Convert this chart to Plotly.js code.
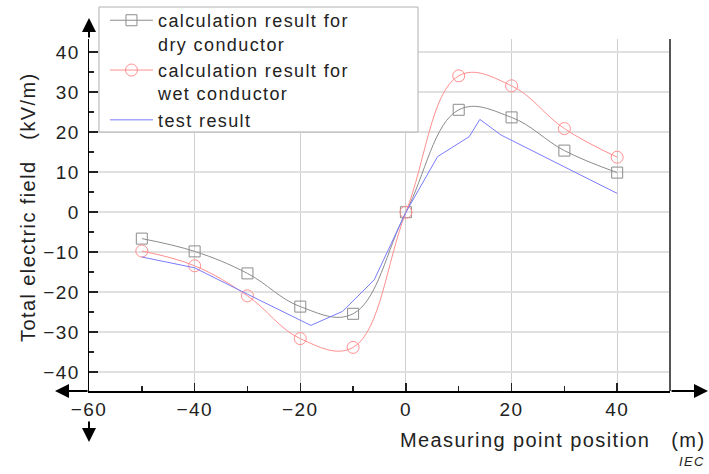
<!DOCTYPE html>
<html>
<head>
<meta charset="utf-8">
<script src="https://cdn.plot.ly/plotly-3.0.1.min.js"></script>
<style>
html,body{margin:0;padding:0;background:#fff;}
#chart{width:709px;height:474px;}
svg text{letter-spacing:1.4px;}
</style>
</head>
<body>
<div id="chart"></div>
<script>
// Data
const xCalc = [-50, -40, -30, -20, -10, 0, 10, 20, 30, 40];
const dryValues = [-6.6, -9.8, -15.3, -23.6, -25.4, 0, 25.6, 23.7, 15.4, 9.9];
const wetValues = [-9.7, -13.4, -20.9, -31.6, -33.8, 0, 34.1, 31.6, 20.9, 13.75];
const xTest = [-50, -40, -30, -18, -12, -6, 0, 6, 12, 14, 18, 40];
const testValues = [-11.2, -13.9, -20.5, -28.3, -24.8, -16.9, 0, 13.9, 18.9, 23.2, 19.3, 4.7];
const seriesNames = ['calculation result for<br>dry conductor', 'calculation result for<br>wet conductor', 'test result'];
const xTickVals = [-60, -40, -20, 0, 20, 40];
const yTickVals = [-40, -30, -20, -10, 0, 10, 20, 30, 40];
const xTitle = 'Measuring point position\u00a0\u00a0\u00a0(m)';
const yTitle = 'Total electric field\u00a0\u00a0\u00a0(kV/m)';

const FONT = 'Liberation Sans, Arial, sans-serif';

const traces = [
  {x: xCalc, y: dryValues, name: seriesNames[0], type: 'scatter', mode: 'lines+markers',
   line: {color: '#8c8c8c', width: 1, shape: 'spline', smoothing: 1.1},
   marker: {symbol: 'square-open', size: 11, color: '#8c8c8c', line: {width: 1, color: '#8c8c8c'}}},
  {x: xCalc, y: wetValues, name: seriesNames[1], type: 'scatter', mode: 'lines+markers',
   line: {color: '#ff8f8f', width: 1, shape: 'spline', smoothing: 1.1},
   marker: {symbol: 'circle-open', size: 12, color: '#ff8f8f', line: {width: 1, color: '#ff8f8f'}}},
  {x: xTest, y: testValues, name: seriesNames[2], type: 'scatter', mode: 'lines',
   line: {color: '#7b7bff', width: 1}}
];

const layout = {
  width: 709, height: 474,
  margin: {l: 89, r: 39, t: 39, b: 83, pad: 0, autoexpand: false},
  paper_bgcolor: '#ffffff', plot_bgcolor: '#ffffff',
  font: {family: FONT, size: 19, color: '#222'},
  showlegend: true,
  legend: {x: 0.0275, y: 1.105, xanchor: 'left', yanchor: 'top',
           bgcolor: 'rgba(0,0,0,0)', borderwidth: 0, font: {family: FONT, size: 18, color: '#222'},
           itemwidth: 43, valign: 'top'},
  xaxis: {range: [-60, 50], tickvals: xTickVals, ticks: 'inside', ticklen: 8, tickwidth: 1.5, tickcolor: '#222',
          showline: true, linecolor: '#000', linewidth: 2, zeroline: false,
          showgrid: true, gridcolor: '#cfcfcf', gridwidth: 1,
          minor: {dtick: 10, tick0: 0, ticks: 'inside', ticklen: 5, tickwidth: 1.5, tickcolor: '#222', showgrid: false},
          tickfont: {family: FONT, size: 19, color: '#222'}},
  yaxis: {range: [-44.7, 43.3], tickvals: yTickVals, ticks: 'inside', ticklen: 9, tickwidth: 1.5, tickcolor: '#222',
          showline: true, linecolor: '#000', linewidth: 1.5, zeroline: false,
          showgrid: true, gridcolor: '#e0e0e0', gridwidth: 1.5, ticklabelstandoff: 4,
          minor: {dtick: 5, tick0: 0, ticks: 'inside', ticklen: 5, tickwidth: 1.5, tickcolor: '#222', showgrid: false},
          tickfont: {family: FONT, size: 19, color: '#222'}},
  shapes: [
    {type: 'line', xref: 'paper', yref: 'paper', x0: 1, x1: 1, y0: 0, y1: 1, line: {color: '#555', width: 2}},
    {type: 'rect', xref: 'paper', yref: 'paper', x0: 0.0172, x1: 0.5663, y0: 0.7358, y1: 1.0909,
     fillcolor: '#ffffff', line: {color: '#b0b0b0', width: 1}, layer: 'above'}
  ],
  annotations: [
    {xref: 'paper', yref: 'paper', x: 0, y: 1.0597, ax: 0, ay: 21, showarrow: true, arrowhead: 2, arrowsize: 1.4, arrowwidth: 2, arrowcolor: '#000', text: ''},
    {xref: 'paper', yref: 'paper', x: 1.0654, y: 0, ax: -38, ay: 0, showarrow: true, arrowhead: 2, arrowsize: 1.4, arrowwidth: 2, arrowcolor: '#000', text: ''},
    {xref: 'paper', yref: 'paper', x: -0.0585, y: 0, ax: 34, ay: 0, showarrow: true, arrowhead: 2, arrowsize: 1.4, arrowwidth: 2, arrowcolor: '#000', text: ''},
    {xref: 'paper', yref: 'paper', x: 0, y: -0.145, ax: 0, ay: -22, showarrow: true, arrowhead: 2, arrowsize: 1.4, arrowwidth: 2, arrowcolor: '#000', text: ''},
    {xref: 'paper', yref: 'paper', x: 1.064, y: -0.139, xanchor: 'right', yanchor: 'middle', showarrow: false,
     text: xTitle, font: {family: FONT, size: 20, color: '#222'}},
    {xref: 'paper', yref: 'paper', x: -0.105, y: 0.523, xanchor: 'center', yanchor: 'middle', showarrow: false, textangle: -90,
     text: yTitle, font: {family: FONT, size: 20, color: '#222'}},
    {xref: 'paper', yref: 'paper', x: 1.064, y: -0.2017, xanchor: 'right', yanchor: 'middle', showarrow: false,
     text: '<i>IEC</i>', font: {family: FONT, size: 13, color: '#222'}}
  ]
};

Plotly.newPlot('chart', traces, layout, {displayModeBar: false, staticPlot: true});
</script>
</body>
</html>
